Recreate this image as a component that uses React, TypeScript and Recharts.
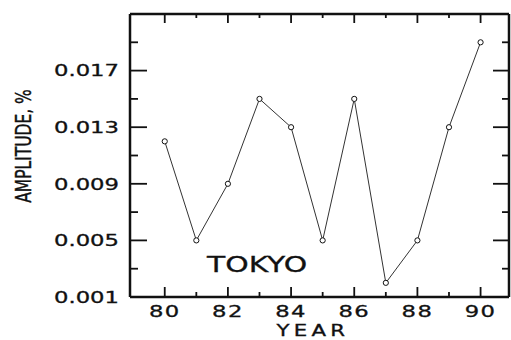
import React from "react";
import { Line, LineChart, XAxis, YAxis } from "recharts";

const years = [80, 81, 82, 83, 84, 85, 86, 87, 88, 89, 90];
const amplitude = [0.012, 0.005, 0.009, 0.015, 0.013, 0.005, 0.015, 0.002, 0.005, 0.013, 0.019];

const xTicks = [80, 81, 82, 83, 84, 85, 86, 87, 88, 89, 90];
const xLabelled = [80, 82, 84, 86, 88, 90];
const yTicks = [0.001, 0.003, 0.005, 0.007, 0.009, 0.011, 0.013, 0.015, 0.017, 0.019];
const yLabelled = [0.001, 0.005, 0.009, 0.013, 0.017];

const data = years.map((year, i) => ({ year, amplitude: amplitude[i] }));

const FONT = '"DejaVu Sans", sans-serif';
const SX = 1.42; // the scan is stretched sideways, so is the lettering
const INK = "#111";

const has = (list: number[], v: number) => list.some((t) => Math.abs(t - v) < 1e-9);

// lettering, widened like the scan
const wide = (x: number, y: number, anchor: string, size: number, label: any, spacing = 0) => (
  <text
    transform={`translate(${x},${y}) scale(${SX},1)`}
    textAnchor={anchor}
    fontFamily={FONT}
    fontSize={size}
    letterSpacing={spacing}
    fill={INK}
    stroke={INK}
    strokeWidth={0.3}
  >
    {label}
  </text>
);

function LeftTick({ x, y, payload }: any) {
  const major = has(yLabelled, payload.value);
  return (
    <g>
      <path d={`M${x},${y}h${major ? 17 : 8}`} stroke={INK} strokeWidth={1.8} />
      {major && wide(x - 11, y + 5.8, "end", 16, payload.value.toFixed(3))}
    </g>
  );
}

function RightTick({ x, y, payload }: any) {
  const major = has(yLabelled, payload.value);
  return <path d={`M${x},${y}h${major ? -16 : -7}`} stroke={INK} strokeWidth={1.8} />;
}

function BottomTick({ x, y, payload }: any) {
  const major = has(xLabelled, payload.value);
  return (
    <g>
      <path d={`M${x},${y}v${major ? -10 : -5}`} stroke={INK} strokeWidth={1.8} />
      {major && wide(x, y + 20, "middle", 16, payload.value, 1)}
    </g>
  );
}

function TopTick({ x, y, payload }: any) {
  const major = has(xLabelled, payload.value);
  return <path d={`M${x},${y}v${major ? 9 : 4}`} stroke={INK} strokeWidth={1.8} />;
}

const yearTitle = () => (
  <g>
    {wide(313, 336, "middle", 15, "YEAR", 3)}
    {wide(207, 272, "start", 21, "TOKYO")}
  </g>
);

const amplitudeTitle = () => (
  <text
    transform={`translate(23,146) scale(${SX},1) rotate(-90)`}
    textAnchor="middle"
    dy="0.36em"
    fontFamily={FONT}
    fontSize={15.5}
    fill={INK}
    stroke={INK}
    strokeWidth={0.3}
  >
    AMPLITUDE, %
  </text>
);

const axisLine = { stroke: INK, strokeWidth: 2.5 };

export default function App() {
  return (
    <div style={{ position: "absolute", left: 0, top: 0, background: "#fff" }}>
      <LineChart width={511} height={340} data={data} margin={{ top: 13, right: 1, bottom: 0, left: 0 }}>
        <XAxis
          dataKey="year"
          type="number"
          domain={[78.9, 90.9]}
          ticks={xTicks}
          interval={0}
          allowDataOverflow
          height={43}
          axisLine={axisLine}
          tickLine={false}
          tickSize={0}
          tickMargin={0}
          tick={BottomTick}
          label={{ content: yearTitle }}
        />
        <XAxis
          xAxisId="top"
          orientation="top"
          dataKey="year"
          type="number"
          domain={[78.9, 90.9]}
          ticks={xTicks}
          interval={0}
          allowDataOverflow
          height={1}
          axisLine={axisLine}
          tickLine={false}
          tickSize={0}
          tickMargin={0}
          tick={TopTick}
        />
        <YAxis
          type="number"
          domain={[0.001, 0.021]}
          ticks={yTicks}
          interval={0}
          allowDataOverflow
          width={130}
          axisLine={axisLine}
          tickLine={false}
          tickSize={0}
          tickMargin={0}
          tick={LeftTick}
          label={{ content: amplitudeTitle }}
        />
        <YAxis
          yAxisId="right"
          orientation="right"
          type="number"
          domain={[0.001, 0.021]}
          ticks={yTicks}
          interval={0}
          allowDataOverflow
          width={1}
          axisLine={axisLine}
          tickLine={false}
          tickSize={0}
          tickMargin={0}
          tick={RightTick}
        />
        <Line
          type="linear"
          dataKey="amplitude"
          stroke="#333"
          strokeWidth={1}
          isAnimationActive={false}
          dot={{ r: 2.6, fill: "#fff", stroke: INK, strokeWidth: 1 }}
        />
      </LineChart>
    </div>
  );
}
